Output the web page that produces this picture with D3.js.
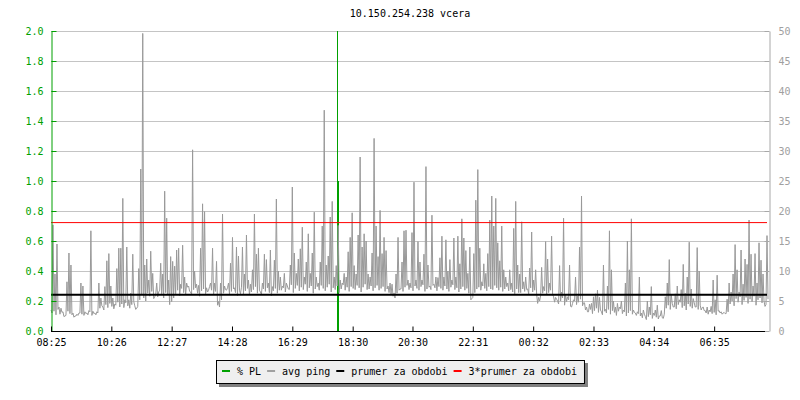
<!DOCTYPE html>
<html><head><meta charset="utf-8">
<script src="https://cdn.jsdelivr.net/npm/d3@7"></script>
<style>
body{margin:0;background:#fff}
svg{display:block}
text{font-family:"DejaVu Sans Mono",monospace;font-size:10px}
</style>
</head><body>
<svg id="c" width="800" height="400"></svg>
<script>
// ---------- data ----------
const title = "10.150.254.238 vcera";
const startTime = "08:25";
const spanMinutes = 1440;
const sampleStep = 4; // minutes between avg ping peak samples (troughs lie half-way)
const timeLabels = ["08:25","10:26","12:27","14:28","16:29","18:30","20:30","22:31","00:32","02:33","04:34","06:35"];
const plTicks = [0,0.2,0.4,0.6,0.8,1.0,1.2,1.4,1.6,1.8,2.0];
const pingTicks = [0,5,10,15,20,25,30,35,40,45,50];
// avg ping in ms (right axis) – upper readings
const avgPingHigh = [
3.5,17.7,9.5,14.5,4.0,3.8,3.2,2.5,8.2,13.0,11.0,3.0,2.5,2.8,3.0,8.0,7.5,3.2,3.0,3.4,16.7,3.3,3.0,3.2,8.0,5.5,4.0,7.4,11.7,12.9,7.5,5.5,4.5,10.4,13.8,13.8,22.1,5.2,14.0,5.2,6.3,12.8,4.2,3.8,10.4,27.0,49.6,11.0,12.0,8.5,13.3,9.6,5.7,8.0,6.5,11.3,9.5,23.3,18.8,
8.5,12.4,11.6,10.8,13.5,13.8,7.8,14.3,9.0,8.0,7.5,6.5,30.2,10.0,7.8,7.6,13.8,21.2,19.9,7.2,6.8,8.0,13.8,8.0,11.6,4.9,8.0,19.5,7.5,6.8,8.0,11.3,15.6,7.2,14.0,12.5,6.2,14.0,9.5,16.0,8.5,7.8,10.2,19.5,12.8,13.8,6.5,8.0,12.8,11.9,8.0,13.5,7.4,11.8,22.0,10.0,
9.0,7.5,9.6,8.0,7.0,11.0,24.0,13.0,9.6,12.0,13.7,17.3,9.0,11.5,16.2,9.6,13.0,19.8,9.0,8.0,11.5,17.5,36.8,11.0,12.5,19.0,21.6,9.0,10.9,17.6,8.5,8.0,9.6,9.0,13.2,15.6,19.7,10.9,9.5,16.0,29.0,14.0,16.2,15.0,9.5,9.0,13.0,32.1,17.5,12.4,20.1,12.9,15.6,13.4,7.5,8.0,7.8,6.3,9.5,15.6,
7.0,11.5,16.7,16.8,8.5,8.0,16.4,24.8,8.5,14.9,11.5,8.5,12.8,27.4,11.0,7.5,19.3,7.8,9.0,8.9,12.2,15.8,9.0,15.2,10.0,11.9,8.5,15.5,9.0,15.8,11.2,18.7,15.5,13.4,9.6,14.0,5.4,12.9,21.8,26.9,13.8,8.2,11.2,9.6,12.9,18.5,22.5,17.5,22.1,14.7,11.7,17.5,10.2,9.0,8.0,10.2,8.0,17.1,21.6,11.0,
9.5,18.2,8.2,9.0,7.0,10.5,16.5,8.5,10.2,4.6,5.0,10.6,7.4,14.9,12.0,8.0,15.8,5.7,5.6,5.0,10.9,6.5,18.8,6.0,5.7,11.0,4.0,5.2,9.0,5.8,14.0,22.5,4.7,3.5,3.2,4.5,4.6,5.7,6.2,6.8,5.6,3.2,11.0,3.6,7.5,16.7,10.2,5.0,4.0,4.6,4.0,5.0,3.5,8.0,15.0,10.2,18.7,3.5,3.0,3.2,
9.0,3.0,3.5,2.4,5.0,4.0,7.4,3.0,3.5,4.3,2.5,3.4,2.1,5.7,8.0,11.9,6.0,4.0,6.2,7.5,5.2,6.9,11.1,6.3,9.0,14.8,7.0,5.4,4.0,13.9,10.0,3.5,4.0,3.4,4.0,3.5,4.1,8.5,5.2,9.3,3.4,3.2,3.0,2.9,5.3,8.0,6.5,9.5,14.4,10.2,6.5,13.5,7.8,12.0,11.1,18.5,12.8,7.5,12.9,8.0,14.7,11.8,9.5,4.1,15.9
];
// avg ping in ms – lower readings (troughs between the samples above)
const avgPingLow = [
3.0,3.3,2.7,3.6,
2.8,3.1,2.4,2.6,3.3,2.9,2.7,2.3,2.5,2.6,3.0,2.8,2.6,2.9,2.7,3.2,2.6,2.9,2.7,3.0,
3.8,4.2,3.5,4.4,3.9,4.6,4.1,3.7,4.3,4.8,4.0,4.5,3.9,4.7,4.2,3.8,4.4,4.9,3.6,4.1,
5.2,6.0,5.5,5.0,6.3,5.8,6.6,5.4,6.1,5.7,6.8,6.2,5.5,6.4,6.0,
4.4,4.9,5.5,
6.2,6.8,5.9,7.1,6.4,6.0,7.3,6.6,6.1,6.9,7.2,6.3,5.8,6.7,7.0,6.2,6.5,7.4,6.8,6.0,6.6,
4.3,4.0,5.2,
6.3,6.9,7.2,6.1,6.6,7.0,6.4,5.9,6.8,7.3,6.2,6.7,7.1,6.0,6.5,6.9,7.4,6.3,6.8,6.1,7.0,6.6,7.2,6.4,5.9,6.7,7.1,6.3,6.8,
6.8,7.2,6.5,7.5,6.9,7.7,6.4,7.1,7.6,6.7,7.3,6.9,7.8,6.6,7.2,7.5,6.3,7.0,7.4,6.8,
7.6,7.1,6.7,7.3,7.8,6.5,7.2,6.9,7.5,6.4,7.0,7.7,6.8,7.3,6.6,7.4,7.1,6.9,7.6,7.2,
6.5,7.3,7.8,6.9,7.0,7.5,6.7,7.2,7.6,6.8,7.1,7.4,6.6,7.0,6.4,6.2,5.8,5.5,6.3,6.8,
7.0,6.6,7.3,7.6,6.9,7.2,6.7,7.5,7.1,6.8,7.4,7.7,6.6,7.0,7.3,6.9,7.6,7.2,6.7,7.4,
7.1,6.8,7.5,7.0,6.6,7.3,7.7,6.9,7.2,6.5,7.0,7.4,6.8,7.1,6.3,5.2,5.6,6.4,7.0,7.3,
6.8,7.5,7.1,6.7,7.4,7.0,6.9,7.6,7.2,6.8,7.3,6.6,7.0,7.4,6.7,6.9,6.5,6.2,7.0,6.4,
6.4,7.0,6.6,6.9,6.2,7.2,6.5,6.8,6.1,5.6,5.9,6.3,6.7,6.0,6.4,6.8,6.1,
4.8,5.3,4.5,5.0,5.5,4.3,4.9,5.2,4.1,4.6,5.0,4.4,4.8,5.3,4.2,4.7,4.0,
3.2,3.6,2.9,3.4,3.8,3.1,3.5,2.7,3.3,3.0,3.6,2.8,3.4,3.1,2.6,3.3,3.7,2.9,3.2,2.5,3.0,3.4,2.8,3.1,2.6,2.9,
2.5,2.2,2.8,1.9,2.4,2.7,2.1,2.6,2.3,2.0,2.5,2.2,2.8,
3.8,4.3,3.6,4.6,4.0,3.7,4.4,4.8,3.9,4.2,3.5,4.5,4.1,3.8,4.7,4.0,3.6,4.3,3.9,3.4,
3.0,2.8,3.2,2.9,3.1,2.7,3.3,3.0,2.8,3.1,2.9,3.2,
4.5,5.0,4.2,5.4,4.8,5.7,4.4,5.1,5.6,4.6,5.3,4.9,5.8,4.3,5.2,5.5,4.7,5.0,4.4,5.3
];
// packet loss (left axis, %) – spikes only, elsewhere 0
const plEvents = [["17:58",2.0],["18:00",1.0]];
const meanPing = 6.05;          // prumer za obdobi (ms)
const meanFactor = 3;           // 3*prumer
const legendLabels = ["% PL","avg ping","prumer za obdobi","3*prumer za obdobi"];
const legendColors = ["#00a000","#a0a0a0","#000000","#ff0000"];

// ---------- helpers ----------
function toDate(hm){
  const [h,m] = hm.split(":").map(Number);
  const d = new Date(2000,0,1,h,m);
  const [sh,sm] = startTime.split(":").map(Number);
  if (h*60+m < sh*60+sm) d.setDate(d.getDate()+1);
  return d;
}
const t0 = toDate(startTime);
const t1 = new Date(+t0 + spanMinutes*60000);

const L = 51, R = 769, T = 31, B = 331;
const svg = d3.select("#c");
const x = d3.scaleTime().domain([t0,t1]).range([L,R]);
const yL = d3.scaleLinear().domain([0,2]).range([B,T]);
const yR = d3.scaleLinear().domain([0,50]).range([B,T]);

// title
svg.append("text").attr("x",410).attr("y",17).attr("text-anchor","middle").attr("fill","#000").text(title);

// grid
svg.append("g").selectAll("line").data(pingTicks.filter(v=>v>0)).join("line")
  .attr("x1",L).attr("x2",R-3).attr("y1",d=>yR(d)+0.5).attr("y2",d=>yR(d)+0.5)
  .attr("stroke","#c4c4c4").attr("stroke-width",1);

// packet loss spikes
const plSeries = [];
plEvents.forEach(([t,v])=>{ const d=toDate(t); plSeries.push({t:d,v:0},{t:d,v},{t:d,v:0}); });
svg.append("path").datum(plSeries)
  .attr("d",d3.line().x(d=>Math.round(x(d.t))+0.5).y(d=>yL(d.v)))
  .attr("fill","none").attr("stroke","#00a000").attr("stroke-width",1);

// avg ping (high & low readings interleaved)
const pingSeries = [];
avgPingHigh.forEach((v,i)=>{
  pingSeries.push({t:new Date(+t0 + i*sampleStep*60000), v});
  pingSeries.push({t:new Date(+t0 + (i+0.5)*sampleStep*60000), v:avgPingLow[i]});
});
svg.append("path").datum(pingSeries.filter(d=>d.t<=t1))
  .attr("d",d3.line().x(d=>x(d.t)).y(d=>yR(Math.min(d.v,50))))
  .attr("fill","none").attr("stroke","#999999").attr("stroke-width",1);

// mean lines
svg.append("line").attr("x1",L).attr("x2",R-2).attr("y1",yR(meanPing)).attr("y2",yR(meanPing))
  .attr("stroke","#000").attr("stroke-width",2);
svg.append("line").attr("x1",L).attr("x2",R-2).attr("y1",yR(meanPing*meanFactor)+0.5).attr("y2",yR(meanPing*meanFactor)+0.5)
  .attr("stroke","#ff0000").attr("stroke-width",1);

// left axis (green)
const gL = svg.append("g").attr("transform",`translate(${L+0.5},0)`);
gL.call(d3.axisLeft(yL).tickValues(d3.range(0,2.001,0.1)).tickSize(-3).tickFormat("").tickSizeOuter(0));
gL.call(d3.axisLeft(yL).tickValues(plTicks).tickSize(-5).tickPadding(8).tickFormat(d3.format(".1f")).tickSizeOuter(0));
gL.selectAll("path,line").attr("stroke","#00a000");
gL.selectAll("text").attr("fill","#00a000").style("font-size","10px").style("font-family","DejaVu Sans Mono");

// right axis (grey)
const gR = svg.append("g").attr("transform",`translate(${R+0.5},0)`);
gR.call(d3.axisRight(yR).tickValues(d3.range(0,51,1)).tickSize(-3).tickFormat("").tickSizeOuter(0));
gR.call(d3.axisRight(yR).tickValues(pingTicks).tickSize(-5).tickPadding(9).tickFormat(d3.format("d")).tickSizeOuter(0));
gR.selectAll("path,line").attr("stroke","#a8a8a8");
gR.selectAll("text").attr("fill","#a0a0a0").style("font-size","10px").style("font-family","DejaVu Sans Mono");

// bottom axis
const gB = svg.append("g").attr("transform",`translate(0,${B+0.5})`);
gB.call(d3.axisBottom(x).tickValues(timeLabels.map(toDate)).tickFormat(d3.timeFormat("%H:%M")).tickSize(-5).tickPadding(7).tickSizeOuter(0));
gB.select(".domain").attr("d",`M${L},0H${R-4}`);
gB.selectAll("path,line").attr("stroke","#000");
gB.selectAll("text").attr("fill","#000").style("font-size","10px").style("font-family","DejaVu Sans Mono");

// legend
const lg = svg.append("g");
const lx = 216, ly = 360, lh = 23;
const shadow = lg.append("rect").attr("fill","#808080");
const box = lg.append("rect").attr("fill","#efefef").attr("stroke","#000").attr("stroke-width",1);
let cx = lx + 6;
legendLabels.forEach((lab,i)=>{
  lg.append("line").attr("x1",cx).attr("x2",cx+8).attr("y1",ly+11).attr("y2",ly+11)
    .attr("stroke",legendColors[i]).attr("stroke-width",2);
  const t = lg.append("text").attr("x",cx+15).attr("y",ly+15).attr("fill","#000").text(lab);
  cx += 15 + t.node().getComputedTextLength() + 6;
});
const lw = cx - lx + 1;
box.attr("x",lx+0.5).attr("y",ly+0.5).attr("width",lw).attr("height",lh);
shadow.attr("x",lx+3).attr("y",ly+3).attr("width",lw+1).attr("height",lh+1);
</script>
</body></html>
